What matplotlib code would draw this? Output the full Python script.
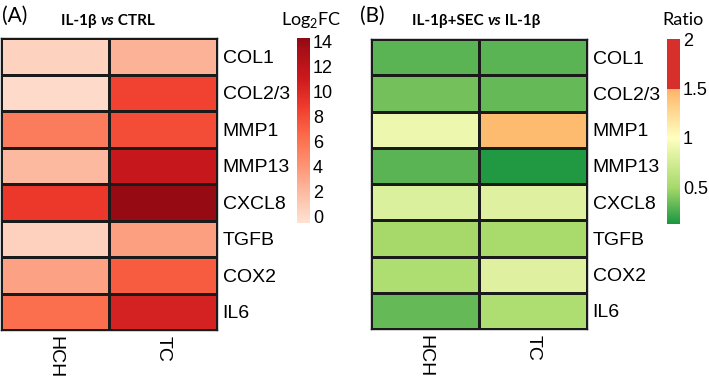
import numpy as np
import matplotlib
matplotlib.use("Agg")
import matplotlib.pyplot as plt
from matplotlib.colors import LinearSegmentedColormap, ListedColormap, Normalize
from matplotlib.colorbar import ColorbarBase

genes = ["COL1", "COL2/3", "MMP1", "MMP13", "CXCL8", "TGFB", "COX2", "IL6"]
cells = ["HCH", "TC"]

# log2 fold change, IL-1b vs CTRL
log2fc_hch = [0.5, 0.0, 5.5, 2.0, 9.0, 0.6, 3.4, 6.3]
log2fc_tc = [2.5, 8.5, 8.0, 11.5, 14.0, 3.5, 7.2, 10.5]

# ratio, IL-1b+SEC vs IL-1b
ratio_hch = [0.30, 0.37, 0.90, 0.30, 0.80, 0.50, 0.55, 0.33]
ratio_tc = [0.30, 0.33, 1.45, 0.15, 0.82, 0.51, 0.82, 0.55]

W, H = 709, 376
fig = plt.figure(figsize=(W / 100, H / 100), dpi=100)
plt.rcParams['mathtext.fontset'] = 'custom'
plt.rcParams['mathtext.rm'] = 'Lato'

def box(x0, y0, x1, y1):
    return [x0 / W, 1 - y1 / H, (x1 - x0) / W, (y1 - y0) / H]

lab_font = ['Liberation Sans', 'DejaVu Sans']
reds = plt.get_cmap('Reds')
cmap_a = ListedColormap(reds(np.linspace(0.12, 0.92, 256)))
norm_a = Normalize(-0.5, 14.3)

lo, hi = 0.13, 2.0
def p(v):
    return (v - lo) / (hi - lo)
cmap_b = LinearSegmentedColormap.from_list('ratio', [
    (0.0, '#1a9641'), (p(0.5), '#a6d96a'), (p(1.0), '#ffffbf'),
    (p(1.5) - 0.001, '#fdb467'), (p(1.5), '#d7302a'), (1.0, '#d7302a')], N=512)
norm_b = Normalize(lo, hi)

def heat(rect, a, b, cmap, norm):
    ax = fig.add_axes(rect)
    data = np.column_stack([a, b])
    ax.pcolormesh(data, cmap=cmap, norm=norm, edgecolors='#1a1a1a', linewidth=0.8)
    ax.set_xlim(0, 2)
    ax.set_ylim(len(genes), 0)
    ax.yaxis.tick_right()
    ax.set_yticks(np.arange(len(genes)) + 0.5)
    ax.set_yticklabels(genes, fontsize=14, family=lab_font)
    ax.set_xticks([0.5, 1.5])
    ax.set_xticklabels(cells, rotation=-90, fontsize=14, family=lab_font, va='top')
    ax.tick_params(length=0, pad=4)
    for s in ax.spines.values():
        s.set_color('#1a1a1a')
        s.set_linewidth(1.0)
    return ax

heat(box(1, 38, 217, 330), log2fc_hch, log2fc_tc, cmap_a, norm_a)
heat(box(371, 39, 587, 329), ratio_hch, ratio_tc, cmap_b, norm_b)

def cbar(rect, cmap, norm, ticks, labels):
    cax = fig.add_axes(rect)
    cb = ColorbarBase(cax, cmap=cmap, norm=norm, ticks=ticks)
    cb.outline.set_visible(False)
    cax.set_yticklabels(labels, fontsize=13, family=lab_font)
    cax.tick_params(length=0, pad=2)
    return cb

cbar(box(297, 38, 310, 223), cmap_a, norm_a, [0, 2, 4, 6, 8, 10, 12, 14],
     ['0', '2', '4', '6', '8', '10', '12', '14'])
cbar(box(667, 39, 680, 224), cmap_b, norm_b, [0.5, 1, 1.5, 2], ['0.5', '1', '1.5', '2'])

ttl = 'Lato'
fig.text(15 / W, 1 - 16 / H, '(A)', fontsize=15, family=ttl, ha='center', va='center')
fig.text(372 / W, 1 - 16 / H, '(B)', fontsize=15, family=ttl, ha='center', va='center')
fig.text(311 / W, 1 - 20 / H, 'Log$_2$FC', fontsize=13, family=ttl, ha='center', va='center')
fig.text(683 / W, 1 - 20 / H, 'Ratio', fontsize=13, family=ttl, ha='center', va='center')

# titles with italic "vs"
fig.canvas.draw()
rend = fig.canvas.get_renderer()

def title(parts, cx, cy):
    objs = []
    for s, style in parts:
        t = fig.text(0, 1 - cy / H, s, fontsize=11, family=ttl, weight='bold',
                     style=style, va='center', ha='left')
        objs.append(t)
    widths = [t.get_window_extent(rend).width for t in objs]
    x = cx - sum(widths) / 2
    for t, w in zip(objs, widths):
        t.set_x(x / W)
        x += w

title([('IL-1β ', 'normal'), ('vs', 'italic'), (' CTRL', 'normal')], 108, 21)
title([('IL-1β+SEC ', 'normal'), ('vs', 'italic'), (' IL-1β', 'normal')], 476, 21)

fig.savefig('out.png', dpi=100)
